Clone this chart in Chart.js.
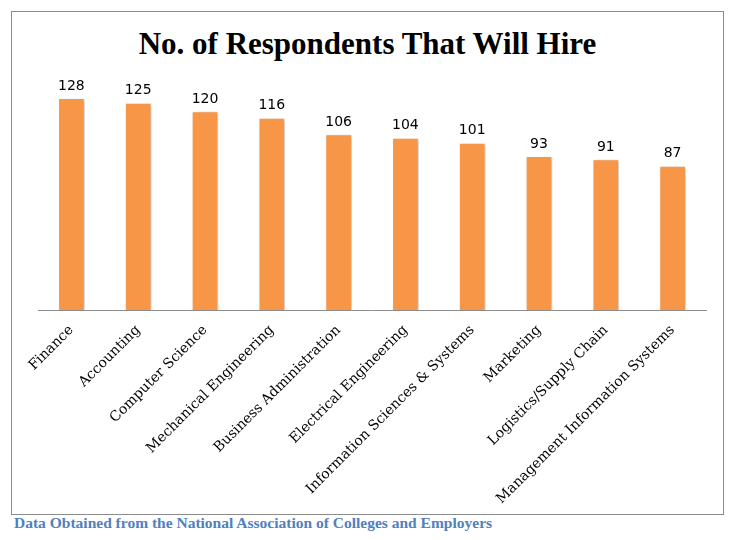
<!DOCTYPE html>
<html>
<head>
<meta charset="utf-8">
<script src="https://cdn.jsdelivr.net/npm/chart.js@4.4.0/dist/chart.umd.min.js"></script>
<style>
  html, body { margin: 0; padding: 0; background: #fff; }
  #box {
    position: absolute; left: 11px; top: 11px;
    width: 711px; height: 502px;
    border: 1px solid #8c8c8c;
  }
  #title {
    position: absolute; left: 0; right: 0; top: 14px;
    text-align: center;
    font: bold 31px "Liberation Serif", serif;
    color: #000;
  }
  #chartWrap { position: absolute; left: 0; top: 0; width: 711px; height: 502px; }
  #source {
    position: absolute; left: 14px; top: 514px;
    font: bold 15.5px "Liberation Serif", serif;
    color: #4f81bd;
  }
</style>
</head>
<body>
<div id="box">
  <div id="title">No. of Respondents That Will Hire</div>
  <div id="chartWrap"><canvas id="hireChart"></canvas></div>
</div>
<div id="source">Data Obtained from the National Association of Colleges and Employers</div>

<script>
const majors = [
  'Finance', 'Accounting', 'Computer Science', 'Mechanical Engineering',
  'Business Administration', 'Electrical Engineering', 'Information Sciences & Systems',
  'Marketing', 'Logistics/Supply Chain', 'Management Information Systems'
];
const respondents = [128, 125, 120, 116, 106, 104, 101, 93, 91, 87];

document.addEventListener('DOMContentLoaded', () => {
  const ctx = document.getElementById('hireChart').getContext('2d');

  // value labels above each bar
  const valueLabels = {
    id: 'valueLabels',
    afterDatasetsDraw(chart) {
      const c = chart.ctx;
      const meta = chart.getDatasetMeta(0);
      c.save();
      c.font = '14px "DejaVu Sans", sans-serif';
      c.fillStyle = '#000';
      c.textAlign = 'center';
      c.textBaseline = 'bottom';
      meta.data.forEach((bar, i) => {
        c.fillText(respondents[i], bar.x, bar.y - 5);
      });
      c.restore();
    }
  };

  // soft shadow behind bars
  const barShadow = {
    id: 'barShadow',
    beforeDatasetsDraw(chart) {
      const c = chart.ctx;
      c.save();
      c.shadowColor = 'rgba(0,0,0,0.22)';
      c.shadowOffsetX = 2;
      c.shadowOffsetY = 1;
      c.shadowBlur = 3;
    },
    afterDatasetsDraw(chart) {
      chart.ctx.restore();
    }
  };

  new Chart(ctx, {
    type: 'bar',
    data: {
      labels: majors,
      datasets: [{
        label: 'Respondents',
        data: respondents,
        backgroundColor: '#f79646',
        borderColor: '#ffffff',
        borderWidth: 1,
        categoryPercentage: 1,
        barPercentage: 0.4
      }]
    },
    options: {
      responsive: true,
      maintainAspectRatio: false,
      animation: false,
      layout: { padding: { left: 26, right: 17, top: 66, bottom: 0 } },
      plugins: {
        legend: { display: false },
        tooltip: { enabled: false },
        title: { display: false }
      },
      scales: {
        y: { display: false, min: 0, max: 140 },
        x: {
          grid: { display: false },
          border: { display: true, color: '#8c8c8c', width: 1 },
          ticks: {
            color: '#000',
            font: { family: '"DejaVu Serif", serif', size: 14 },
            maxRotation: 45, minRotation: 45,
            autoSkip: false, padding: 4
          },
          afterFit(scale) { scale.height = 204; }
        }
      }
    },
    plugins: [barShadow, valueLabels]
  });
});
</script>
</body>
</html>
